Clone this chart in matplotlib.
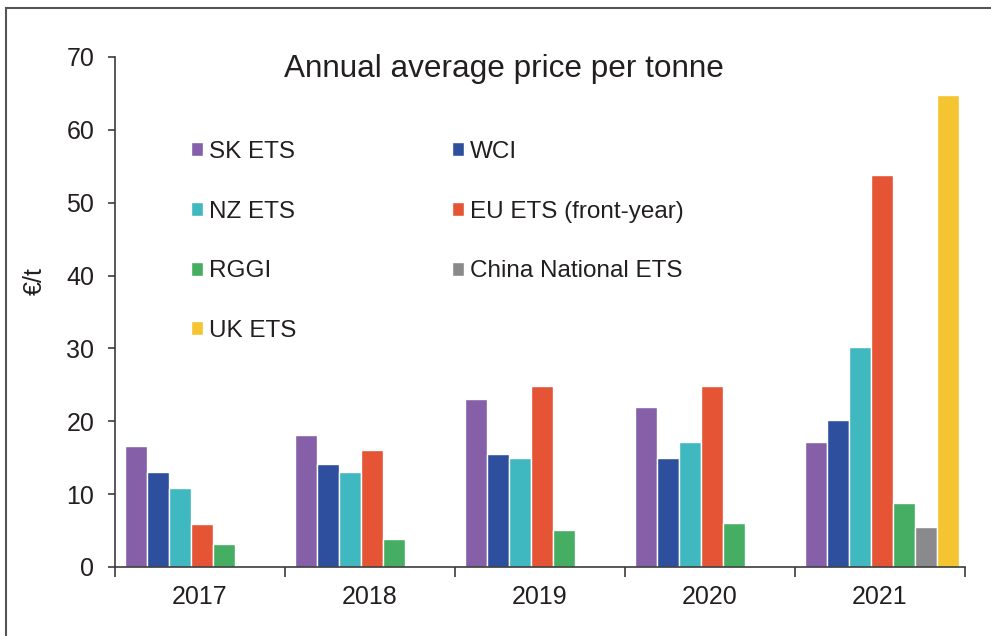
import matplotlib
matplotlib.use("Agg")
import matplotlib.pyplot as plt
import numpy as np
from matplotlib.patches import Rectangle

years = ["2017", "2018", "2019", "2020", "2021"]
series_names = ["SK ETS", "WCI", "NZ ETS", "EU ETS (front-year)", "RGGI",
                "China National ETS", "UK ETS"]
sk_ets = [16.6, 18.1, 23.0, 21.9, 17.1]
wci = [13.0, 14.2, 15.5, 15.0, 20.2]
nz_ets = [10.9, 13.0, 15.0, 17.1, 30.2]
eu_ets = [5.9, 16.0, 24.9, 24.9, 53.8]
rggi = [3.1, 3.9, 5.1, 6.0, 8.8]
china_ets = [np.nan, np.nan, np.nan, np.nan, 5.5]
uk_ets = [np.nan, np.nan, np.nan, np.nan, 64.8]
colors = ["#8560A8", "#2E4F9E", "#3FB8C0", "#E55435", "#46AE63",
          "#8A8A8C", "#F5C431"]
yticks = [0, 10, 20, 30, 40, 50, 60, 70]

data = [sk_ets, wci, nz_ets, eu_ets, rggi, china_ets, uk_ets]

plt.rcParams['font.family'] = ['Liberation Sans', 'DejaVu Sans']
TXT = "#231F20"
AXC = "#3C3C3C"

W, H = 991, 636
fig = plt.figure(figsize=(W / 100, H / 100), dpi=100)
ax = fig.add_axes([115 / W, 1 - 567 / H, (965 - 115) / W, (567 - 57) / H])

x = np.arange(len(years))
bw = 0.1287
handles = []
for j, (name, vals, c) in enumerate(zip(series_names, data, colors)):
    off = (j - 3) * bw + 0.012
    b = ax.bar(x + off, vals, width=bw, color=c, edgecolor="white",
               linewidth=1.0, label=name)
    handles.append(b)

ax.set_xlim(-0.5, 4.5)
ax.set_ylim(0, 70)
ax.set_yticks(yticks)
ax.set_yticklabels([str(t) for t in yticks])
ax.set_xticks(x)
ax.set_xticklabels(years)
ax.set_xticks(np.arange(-0.5, 4.6, 1.0), minor=True)
ax.tick_params(axis='x', which='major', length=0, pad=13, labelsize=18,
               labelcolor=TXT)
ax.tick_params(axis='x', which='minor', length=7, width=1.2, color=AXC,
               direction='out')
ax.tick_params(axis='y', which='major', length=5, width=1.2, color=AXC,
               pad=10, labelsize=18, labelcolor=TXT, direction='out')
for s in ['top', 'right']:
    ax.spines[s].set_visible(False)
for s in ['left', 'bottom']:
    ax.spines[s].set_color(AXC)
    ax.spines[s].set_linewidth(1.2)

ax.set_ylabel("€/t", fontsize=18, color=TXT)
ax.yaxis.set_label_coords((47 - 115) / 850, (567 - 281) / 510)

fig.text(504 / W, 1 - 69 / H, "Annual average price per tonne",
         ha='center', va='center', fontsize=22.7, color=TXT)

order = [0, 2, 4, 6, 1, 3, 5]
leg = ax.legend([handles[i] for i in order], [series_names[i] for i in order],
                ncol=2, loc='upper left', bbox_to_anchor=(191 / W, 1 - 141 / H),
                bbox_transform=fig.transFigure, frameon=False, fontsize=17.5,
                handlelength=0.5, handleheight=0.5, handletextpad=0.25,
                labelspacing=1.55, columnspacing=6.4, borderpad=0,
                borderaxespad=0)
for t in leg.get_texts():
    t.set_color(TXT)

# outer frame (top and left visible)
fig.patches.append(Rectangle((6 / W, -0.1), 1.1, 1.1 - 8 / H,
                             transform=fig.transFigure, fill=False,
                             edgecolor="#555555", linewidth=1.5))

fig.savefig("out.png", dpi=100)
